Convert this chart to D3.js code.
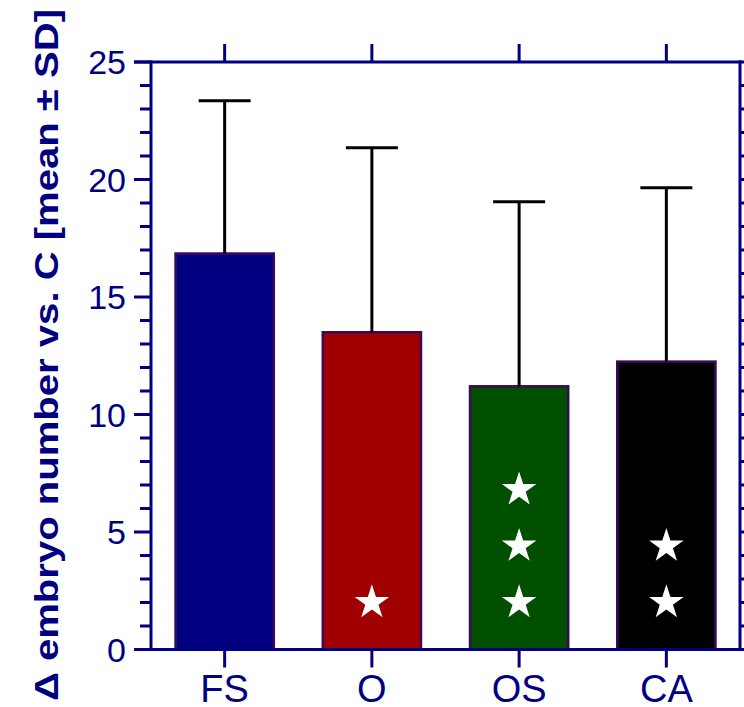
<!DOCTYPE html>
<html>
<head>
<meta charset="utf-8">
<script src="https://cdn.jsdelivr.net/npm/d3@7"></script>
<style>
  body { margin: 0; background: #fff; }
  svg { display: block; font-family: "Liberation Sans", Arial, sans-serif; }
</style>
</head>
<body>
<div id="chart"></div>
<script>
// chart data
const groups = ['FS', 'O', 'OS', 'CA'];
const means = [16.85, 13.5, 11.2, 12.25];
const sds = [6.5, 7.85, 7.85, 7.4];
const starCounts = [0, 1, 3, 2];
const starLevels = [2, 4.4, 6.8];
const yTicks = [0, 5, 10, 15, 20, 25];
const fills = ['#000080', '#a00000', '#005000', '#000000'];

const W = 744, H = 707;
const plotL = 151, plotR = 740, plotT = 62, plotB = 649.5;
const navy = '#000080';

const svg = d3.select('#chart')
    .append('svg')
    .attr('width', W)
    .attr('height', H);

const x = d3.scaleBand()
    .domain(groups)
    .range([plotL, plotR])
    .paddingInner(0.333)
    .paddingOuter(0.1667);

const y = d3.scaleLinear()
    .domain([0, 25])
    .range([plotB, plotT]);

const minor = d3.range(0, 26, 1);

// bars
svg.append('g')
    .selectAll('rect')
    .data(groups)
    .join('rect')
    .attr('x', d => x(d))
    .attr('y', (d, i) => y(means[i]))
    .attr('width', x.bandwidth())
    .attr('height', (d, i) => y(0) - y(means[i]))
    .attr('fill', (d, i) => fills[i])
    .attr('stroke', '#3a0a5a')
    .attr('stroke-width', 2.5);

// error bars (upper only)
const eb = svg.append('g').attr('stroke', '#000').attr('stroke-width', 3);
groups.forEach((g, i) => {
    const cx = x(g) + x.bandwidth() / 2;
    eb.append('line')
        .attr('x1', cx).attr('x2', cx)
        .attr('y1', y(means[i])).attr('y2', y(means[i] + sds[i]));
    eb.append('line')
        .attr('x1', cx - 26).attr('x2', cx + 26)
        .attr('y1', y(means[i] + sds[i])).attr('y2', y(means[i] + sds[i]));
});

// significance stars
const star = d3.symbol().type(d3.symbolStar).size(370);
groups.forEach((g, i) => {
    const cx = x(g) + x.bandwidth() / 2;
    starLevels.slice(0, starCounts[i]).forEach(v => {
        svg.append('path')
            .attr('d', star())
            .attr('transform', `translate(${cx},${y(v)})`)
            .attr('fill', '#fff');
    });
});

// axes
const ax = svg.append('g').attr('stroke', navy).attr('stroke-width', 3).attr('fill', 'none');
// frame lines
ax.append('line').attr('x1', plotL).attr('x2', plotL).attr('y1', plotT - 1.5).attr('y2', plotB + 1.5);
ax.append('line').attr('x1', plotR).attr('x2', plotR).attr('y1', plotT - 1.5).attr('y2', plotB + 1.5);
ax.append('line').attr('x1', plotL - 17).attr('x2', plotR + 1.5).attr('y1', plotT).attr('y2', plotT);
ax.append('line').attr('x1', plotL - 17).attr('x2', plotR + 1.5).attr('y1', plotB).attr('y2', plotB);

// side ticks
minor.filter(v => v % 5 !== 0).forEach(v => {
    ax.append('line').attr('x1', plotL - 11).attr('x2', plotL).attr('y1', y(v)).attr('y2', y(v));
    ax.append('line').attr('x1', plotR).attr('x2', plotR + 11).attr('y1', y(v)).attr('y2', y(v));
});
yTicks.forEach(v => {
    ax.append('line').attr('x1', plotL - 17).attr('x2', plotL).attr('y1', y(v)).attr('y2', y(v));
    ax.append('line').attr('x1', plotR).attr('x2', plotR + 17).attr('y1', y(v)).attr('y2', y(v));
});

// top and bottom category ticks
groups.forEach(g => {
    const cx = x(g) + x.bandwidth() / 2;
    ax.append('line').attr('x1', cx).attr('x2', cx).attr('y1', plotT).attr('y2', plotT - 18);
    ax.append('line').attr('x1', cx).attr('x2', cx).attr('y1', plotB).attr('y2', plotB + 18);
});

// y tick labels
svg.append('g')
    .selectAll('text')
    .data(yTicks)
    .join('text')
    .attr('x', 126)
    .attr('y', d => y(d))
    .attr('dy', '0.36em')
    .attr('text-anchor', 'end')
    .attr('font-size', 34)
    .attr('fill', navy)
    .text(d => d);

// x labels
svg.append('g')
    .selectAll('text')
    .data(groups)
    .join('text')
    .attr('x', d => x(d) + x.bandwidth() / 2)
    .attr('y', 702)
    .attr('text-anchor', 'middle')
    .attr('font-size', 38)
    .attr('fill', navy)
    .text(d => d);

// y title
svg.append('text')
    .attr('transform', 'translate(58,355) rotate(-90)')
    .attr('text-anchor', 'middle')
    .attr('font-size', 33)
    .attr('font-weight', 'bold')
    .attr('fill', navy)
    .attr('textLength', 692)
    .attr('lengthAdjust', 'spacingAndGlyphs')
    .text('\u0394 embryo number vs. C [mean \u00b1 SD]');
</script>
</body>
</html>
